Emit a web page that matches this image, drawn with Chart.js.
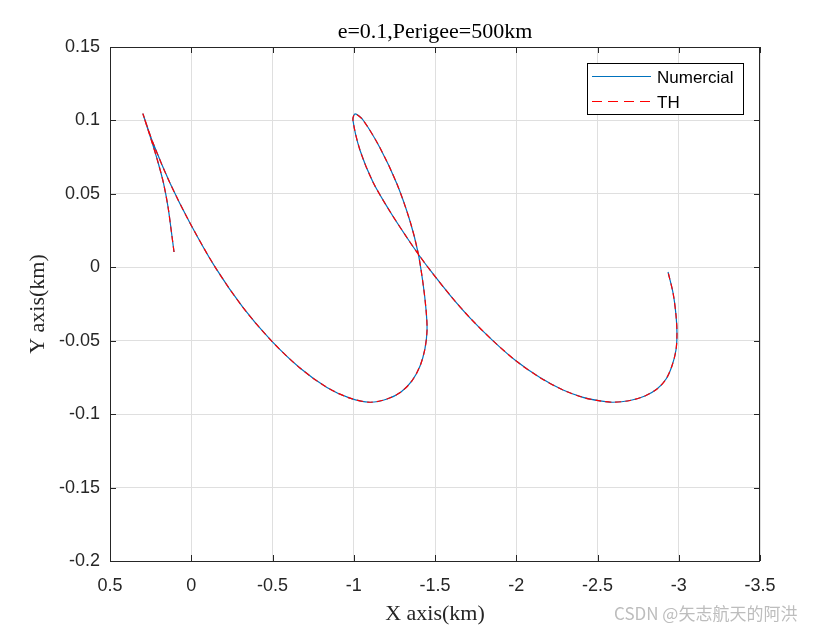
<!DOCTYPE html>
<html>
<head>
<meta charset="utf-8">
<script src="https://cdn.jsdelivr.net/npm/chart.js@4.4.1/dist/chart.umd.min.js"></script>
<style>
    body { margin: 0; background: #fff; }
    #wrap { position: relative; width: 840px; height: 630px; }
    #mark {
        position: absolute; left: 614px; top: 600px;
        font: 17px "Noto Sans CJK SC", "Noto Sans", sans-serif;
        color: #bdbdbd; white-space: nowrap;
    }
</style>
</head>
<body>
<div id="wrap">
    <canvas id="orbit" width="840" height="630"></canvas>
    <div id="mark">CSDN @矢志航天的阿洪</div>
</div>
<script>
// relative trajectory (both traces lie on top of each other)
const trajX = [0.106, 0.122, 0.143, 0.171, 0.205, 0.248, 0.297,
    0.235, 0.131, 0.008, -0.146, -0.318, -0.491, -0.669, -0.835, -0.977, -1.100,
    -1.205, -1.291, -1.358, -1.408, -1.438, -1.451, -1.445, -1.426, -1.395, -1.346, -1.266, -1.162, -1.057, -1.008,
    -0.995, -1.038, -1.118, -1.223, -1.328, -1.402, -1.469, -1.592, -1.715, -1.851, -1.998, -2.146, -2.288,
    -2.411, -2.515, -2.595,
    -2.700, -2.792, -2.866, -2.922, -2.958, -2.983, -2.989, -2.983, -2.965, -2.934];
const trajY = [0.0104, 0.0240, 0.0411, 0.0574, 0.0717, 0.0874, 0.1044,
    0.0846, 0.0574, 0.0302, 0.0003, -0.0273, -0.0498, -0.0686, -0.0818, -0.0891, -0.0919,
    -0.0897, -0.0849, -0.0774, -0.0672, -0.0556, -0.0427, -0.0291, -0.0107, 0.0104, 0.0315, 0.0567, 0.0812, 0.1003, 0.1044,
    0.1003, 0.0799, 0.0581, 0.0380, 0.0201, 0.0082, -0.0018, -0.0189, -0.0344, -0.0494, -0.0637, -0.0751, -0.0836,
    -0.0886, -0.0910, -0.0919,
    -0.0907, -0.0876, -0.0829, -0.0761, -0.0672, -0.0563, -0.0447, -0.0325, -0.0175, -0.0032];
const seriesNames = ['Numercial', 'TH'];
const xTicks = [0.5, 0, -0.5, -1, -1.5, -2, -2.5, -3, -3.5];
const yTicks = [0.15, 0.1, 0.05, 0, -0.05, -0.1, -0.15, -0.2];

const points = trajX.map((x, i) => ({ x: x, y: trajY[i] }));
const axisColor = '#262626';
const blue = '#0072BD';
const red = '#FF0000';

// box, inward ticks, title and legend the MATLAB way
const matlabFrame = {
    id: 'matlabFrame',
    afterDraw(chart) {
        const ctx = chart.ctx;
        const a = chart.chartArea;
        const sx = chart.scales.x, sy = chart.scales.y;
        ctx.save();
        ctx.strokeStyle = axisColor;
        ctx.lineWidth = 1;
        ctx.strokeRect(a.left + 0.5, a.top + 0.5, a.right - a.left - 1, a.bottom - a.top);
        ctx.beginPath();
        xTicks.forEach(v => {
            const px = Math.round(sx.getPixelForValue(v)) + 0.5;
            ctx.moveTo(px, a.bottom); ctx.lineTo(px, a.bottom - 6);
            ctx.moveTo(px, a.top); ctx.lineTo(px, a.top + 6);
        });
        yTicks.forEach(v => {
            const py = Math.round(sy.getPixelForValue(v)) + 0.5;
            ctx.moveTo(a.left, py); ctx.lineTo(a.left + 6, py);
            ctx.moveTo(a.right, py); ctx.lineTo(a.right - 6, py);
        });
        ctx.stroke();

        // title
        ctx.fillStyle = '#000';
        ctx.font = '22px "Liberation Serif", "Times New Roman", serif';
        ctx.textAlign = 'center';
        ctx.textBaseline = 'middle';
        ctx.fillText('e=0.1,Perigee=500km', (a.left + a.right) / 2, 32);

        // legend
        const lx = a.right - 173, ly = a.top + 16, lw = 156, lh = 51;
        ctx.fillStyle = '#fff';
        ctx.fillRect(lx, ly, lw, lh);
        ctx.strokeStyle = '#000';
        ctx.strokeRect(lx + 0.5, ly + 0.5, lw, lh);
        ctx.lineWidth = 1.2;
        ctx.strokeStyle = blue;
        ctx.beginPath(); ctx.moveTo(lx + 5, ly + 13.5); ctx.lineTo(lx + 64, ly + 13.5); ctx.stroke();
        ctx.strokeStyle = red;
        ctx.setLineDash([10, 6]);
        ctx.beginPath(); ctx.moveTo(lx + 5, ly + 38.5); ctx.lineTo(lx + 64, ly + 38.5); ctx.stroke();
        ctx.setLineDash([]);
        ctx.fillStyle = '#000';
        ctx.font = '17px "Liberation Sans", Arial, sans-serif';
        ctx.textAlign = 'left';
        ctx.fillText(seriesNames[0], lx + 70, ly + 15);
        ctx.fillText(seriesNames[1], lx + 70, ly + 40);
        ctx.restore();
    }
};

const tickFont = { family: '"Liberation Sans", Arial, sans-serif', size: 18 };
const titleFont = { family: '"Liberation Serif", "Times New Roman", serif', size: 22 };

new Chart(document.getElementById('orbit'), {
    type: 'scatter',
    data: {
        datasets: [
            {
                label: seriesNames[0],
                data: points,
                showLine: true,
                borderColor: blue,
                borderWidth: 1.2,
                pointRadius: 0,
                tension: 0.3,
                order: 1
            },
            {
                label: seriesNames[1],
                data: points,
                showLine: true,
                borderColor: red,
                borderWidth: 1.2,
                borderDash: [6, 4],
                pointRadius: 0,
                tension: 0.3,
                order: 0
            }
        ]
    },
    options: {
        responsive: false,
        animation: false,
        layout: { padding: { top: 47, right: 80, left: 0, bottom: 0 } },
        plugins: {
            legend: { display: false },
            tooltip: { enabled: false }
        },
        scales: {
            x: {
                type: 'linear',
                reverse: true,
                min: -3.5,
                max: 0.5,
                afterBuildTicks: s => { s.ticks = xTicks.map(v => ({ value: v })); },
                afterFit: s => { s.height = 69; },
                ticks: {
                    font: tickFont,
                    color: axisColor,
                    padding: 14,
                    maxRotation: 0,
                    callback: v => String(v)
                },
                grid: { color: '#dfdfdf', drawTicks: false },
                border: { display: false },
                title: {
                    display: true,
                    text: 'X axis(km)',
                    font: titleFont,
                    color: axisColor,
                    padding: { top: 0, bottom: 3 }
                }
            },
            y: {
                min: -0.2,
                max: 0.15,
                afterBuildTicks: s => { s.ticks = yTicks.map(v => ({ value: v })); },
                afterFit: s => { s.width = 110; },
                ticks: {
                    font: tickFont,
                    color: axisColor,
                    padding: 10,
                    callback: v => String(v)
                },
                grid: { color: '#dfdfdf', drawTicks: false },
                border: { display: false },
                title: {
                    display: true,
                    text: 'Y axis(km)',
                    font: titleFont,
                    color: axisColor,
                    padding: { top: 25, bottom: 0 }
                }
            }
        }
    },
    plugins: [matlabFrame]
});
</script>
</body>
</html>
